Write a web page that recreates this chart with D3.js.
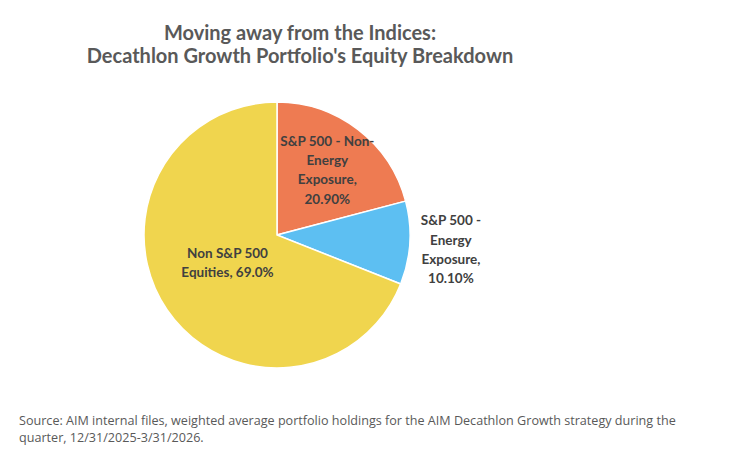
<!DOCTYPE html>
<html>
<head>
<meta charset="utf-8">
<script src="https://cdn.jsdelivr.net/npm/d3@7"></script>
<style>
  body { margin: 0; background: #fff; }
  svg { display: block; }
</style>
</head>
<body>
<div class="pie-chart"></div>
<script>
const sliceNames = ['S&P 500 - Non-Energy Exposure', 'S&P 500 - Energy Exposure', 'Non S&P 500 Equities'];
const sliceValues = [20.9, 10.1, 69.0];
const sliceLabels = [
  ['S&P 500 - Non-', 'Energy', 'Exposure,', '20.90%'],
  ['S&P 500 -', 'Energy', 'Exposure,', '10.10%'],
  ['Non S&P 500', 'Equities, 69.0%']
];
const titleLines = ['Moving away from the Indices:', "Decathlon Growth Portfolio's Equity Breakdown"];
const sourceLines = [
  'Source: AIM internal files, weighted average portfolio holdings for the AIM Decathlon Growth strategy during the',
  'quarter, 12/31/2025-3/31/2026.'
];

const width = 750;
const height = 464;
const radius = 133;
const cx = 277, cy = 235;

const svg = d3.select('.pie-chart')
  .append('svg')
  .attr('width', width)
  .attr('height', height);

const colorPalette = d3.scaleOrdinal()
  .domain(sliceNames)
  .range(['#EE7B52', '#5DBFF2', '#F0D54E']);

// title
svg.append('g')
  .selectAll('text')
  .data(titleLines)
  .enter()
  .append('text')
  .attr('x', 300)
  .attr('y', (d, i) => 40 + i * 23)
  .attr('text-anchor', 'middle')
  .attr('font-family', 'Lato, "Open Sans", sans-serif')
  .attr('font-weight', 'bold')
  .attr('font-size', '20px')
  .attr('fill', '#595959')
  .text(d => d);

const pie = d3.pie().value(d => d.value).sort(null);
const arc = d3.arc().innerRadius(0).outerRadius(radius);

const data = sliceNames.map((name, i) => ({ name, value: sliceValues[i], label: sliceLabels[i] }));

const g = svg.append('g')
  .attr('transform', 'translate(' + cx + ',' + cy + ')');

const arcs = pie(data);

g.selectAll('path')
  .data(arcs)
  .enter()
  .append('path')
  .attr('d', arc)
  .attr('fill', d => colorPalette(d.data.name))
  .attr('stroke', '#fff')
  .attr('stroke-width', 1.5);

// label anchor points: inside for big slices, outside for the small one
const labelArc = r => d3.arc().innerRadius(radius * r).outerRadius(radius * r);

const labelPos = d => {
  let p;
  if (d.data.value < 15) {
    p = labelArc(1.31).centroid(d);
    return [p[0], p[1] + 4];
  }
  if (d.data.value > 50) {
    p = labelArc(0.45).centroid(d);
    return [p[0], p[1] - 6];
  }
  return labelArc(0.62).centroid(d);
};

const labels = g.selectAll('.label')
  .data(arcs)
  .enter()
  .append('text')
  .attr('class', 'label')
  .attr('text-anchor', 'middle')
  .attr('font-family', 'Lato, "Open Sans", sans-serif')
  .attr('font-weight', 'bold')
  .attr('font-size', '13.5px')
  .attr('fill', '#404040')
  .attr('transform', d => {
    const p = labelPos(d);
    return 'translate(' + p[0] + ',' + p[1] + ')';
  });

labels.each(function (d) {
  const lines = d.data.label;
  const step = 19.3;
  const start = -((lines.length - 1) * step) / 2 + 5;
  d3.select(this).selectAll('tspan')
    .data(lines)
    .enter()
    .append('tspan')
    .attr('x', 0)
    .attr('y', (l, i) => start + i * step)
    .text(l => l);
});

// source note
svg.append('g')
  .selectAll('text')
  .data(sourceLines)
  .enter()
  .append('text')
  .attr('x', 19)
  .attr('y', (d, i) => 425 + i * 17)
  .attr('font-family', '"Open Sans", sans-serif')
  .attr('font-size', '12.6px')
  .attr('fill', '#595959')
  .text(d => d);
</script>
</body>
</html>
